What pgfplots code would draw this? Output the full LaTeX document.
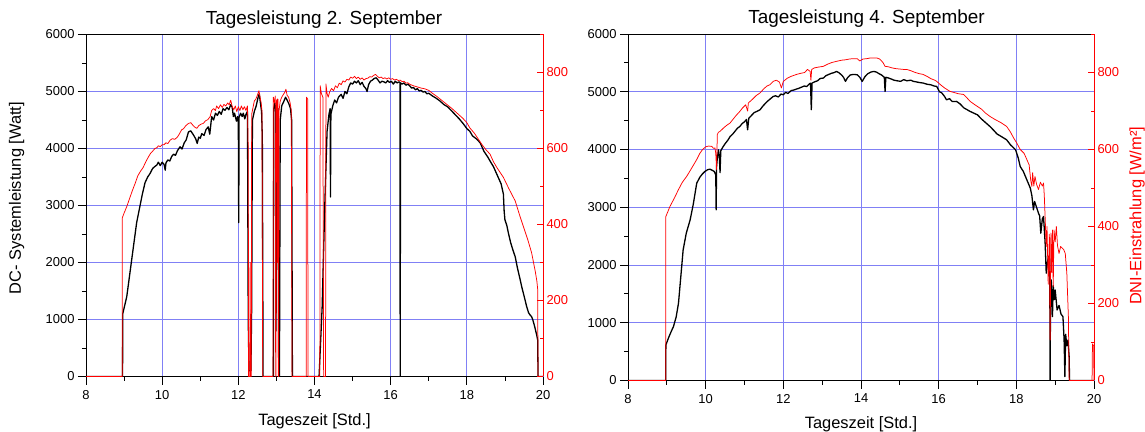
\documentclass[border=0pt]{standalone}
\usepackage{fontspec}
\setmainfont{Liberation Sans}
\usepackage{pgfplots}
\pgfplotsset{compat=1.18}
\definecolor{gridblue}{RGB}{128,128,245}
\pgfplotsset{
  blackax/.style={
    scale only axis, xmin=8, xmax=20, ymin=0, ymax=6000,
    axis y line*=left,
    xtick={8,10,...,20}, minor xtick={9,11,...,19},
    ytick={0,1000,...,6000}, minor ytick={500,1500,...,5500},
    xtick pos=bottom,
    tick align=outside, major tick length=8bp, minor tick length=4bp,
    tick style={black, line width=0.8bp},
    axis line style={line width=1bp},
    grid=major, grid style={gridblue, line width=0.8bp},
    /pgf/number format/assume math mode=true,
    /pgf/number format/set thousands separator={},
    scaled y ticks=false,
    tick label style={font=\fontsize{13}{15}\selectfont},
    xticklabel style={yshift=-2bp},
    label style={font=\fontsize{16.5}{19}\selectfont},
    title style={font=\fontsize{19}{22}\selectfont, anchor=base, yshift=4.5bp},
  },
  redax/.style={
    scale only axis, xmin=8, xmax=20, ymin=0, ymax=900,
    axis y line*=right, axis x line=none,
    ytick={0,200,...,800}, minor ytick={100,300,...,900},
    tick align=inside, major tick length=6bp, minor tick length=3bp,
    tick style={red, line width=0.8bp},
    y axis line style={red, line width=1bp},
    /pgf/number format/assume math mode=true,
    yticklabel style={red, font=\fontsize{13}{15}\selectfont},
    label style={font=\fontsize{16.5}{19}\selectfont, red},
  },
  blk/.style={black, line width=1.3bp, line join=round},
  rd/.style={red, line width=0.75bp, line join=round},
}
\begin{document}
\begin{tikzpicture}
\useasboundingbox (0,0) rectangle (1145bp,432bp);
% ---------------- Left panel: 2. September ----------------
\begin{axis}[blackax, at={(86bp,55.5bp)}, anchor=south west, width=457bp, height=342bp,
  title={Tagesleistung 2. September}, title style={at={(axis description cs:0.521,1)}},
  xlabel={Tageszeit [Std.]}, xlabel style={at={(axis description cs:0.5,-0.13)}, anchor=center},
  ylabel={DC- Systemleistung [Watt]}, ylabel style={at={(axis description cs:-0.152,0.522)}, anchor=center}]
\addplot[blk] coordinates {
(8,0) (8.96,0) (8.965,1100) (9.0,1200) (9.07,1400) (9.13,1700) (9.2,2050) (9.27,2400) (9.33,2700) (9.42,3000) (9.48,3200) (9.55,3400) (9.62,3500) (9.68,3560) (9.75,3650) (9.8,3680) (9.86,3710) (9.9,3760) (9.95,3700) (10.0,3760) (10.05,3720) (10.08,3620) (10.1,3750) (10.15,3800) (10.2,3780) (10.25,3860) (10.3,3900) (10.35,3880) (10.4,3960) (10.47,4030) (10.52,3990) (10.58,4100) (10.63,4150) (10.69,4290) (10.75,4310) (10.82,4240) (10.88,4170) (10.92,4090) (10.96,4200) (11.0,4180) (11.04,4260) (11.1,4230) (11.15,4330) (11.21,4380) (11.25,4250) (11.3,4560) (11.35,4500) (11.4,4620) (11.45,4580) (11.5,4650) (11.55,4600) (11.6,4700) (11.65,4670) (11.7,4720) (11.75,4680) (11.8,4770) (11.84,4720) (11.87,4560) (11.9,4620) (11.95,4480) (11.98,4560) (12.0,4450) (12.01,2700) (12.02,4550) (12.06,4620) (12.1,4560) (12.13,4620) (12.17,4520) (12.2,4600) (12.24,4650) (12.26,1000) (12.28,100) (12.33,100) (12.35,1200) (12.37,4500) (12.42,4650) (12.47,4750) (12.52,4900) (12.55,4960) (12.58,4800) (12.61,4650) (12.63,4200) (12.65,0) (12.92,0) (12.93,4700) (12.96,4800) (12.98,4650) (12.99,800) (13.01,4600) (13.04,4700) (13.06,0) (13.08,0) (13.1,4500) (13.14,4750) (13.19,4820) (13.24,4900) (13.28,4850) (13.33,4780) (13.37,4700) (13.4,4500) (13.42,0) (14.12,0) (14.2,1200) (14.27,3000) (14.33,4300) (14.38,4600) (14.41,4700) (14.42,3150) (14.43,4600) (14.48,4750) (14.53,4850) (14.58,4800) (14.63,4900) (14.7,4950) (14.75,4880) (14.8,5000) (14.85,4960) (14.9,5080) (14.95,5150) (15.0,5130) (15.05,5180) (15.1,5150) (15.15,5190) (15.2,5120) (15.25,5160) (15.3,5090) (15.35,5050) (15.38,5000) (15.42,5120) (15.47,5180) (15.52,5200) (15.57,5230) (15.62,5240) (15.67,5200) (15.72,5150) (15.77,5180) (15.82,5170) (15.87,5150) (15.92,5190) (15.97,5160) (16.02,5180) (16.07,5130) (16.12,5180) (16.17,5150) (16.22,5170) (16.245,5160) (16.25,0) (16.26,5150) (16.3,5130) (16.35,5150) (16.4,5110) (16.45,5130) (16.5,5100) (16.55,5060) (16.6,5070) (16.65,5030) (16.7,5050) (16.75,5010) (16.8,5020) (16.85,4990) (16.9,5000) (16.95,4960) (17.0,4970) (17.1,4920) (17.2,4880) (17.3,4830) (17.4,4770) (17.5,4730) (17.6,4660) (17.7,4590) (17.8,4520) (17.9,4440) (18.0,4350) (18.08,4300) (18.15,4220) (18.25,4170) (18.35,4100) (18.45,3950) (18.55,3850) (18.61,3780) (18.7,3680) (18.8,3530) (18.9,3380) (18.96,3200) (18.98,2900) (19.0,2750) (19.05,2650) (19.09,2520) (19.15,2350) (19.2,2240) (19.27,2100) (19.33,1900) (19.4,1700) (19.45,1550) (19.5,1420) (19.57,1230) (19.62,1120) (19.66,1080) (19.7,1050) (19.73,1000) (19.78,880) (19.83,740) (19.86,640) (19.87,0) (20,0)
};
\end{axis}
\begin{axis}[redax, at={(86bp,55.5bp)}, anchor=south west, width=457bp, height=342bp]
\addplot[rd] coordinates {
(8,0) (8.95,0) (8.955,418) (9.0,430) (9.07,447) (9.15,470) (9.22,490) (9.29,508) (9.36,528) (9.43,540) (9.5,550) (9.57,565) (9.64,578) (9.7,588) (9.75,593) (9.81,600) (9.86,602) (9.9,607) (9.95,605) (10.0,610) (10.05,610) (10.1,615) (10.15,613) (10.21,622) (10.27,626) (10.33,624) (10.4,630) (10.45,638) (10.51,649) (10.56,652) (10.62,660) (10.69,666) (10.75,668) (10.8,662) (10.86,656) (10.91,653) (10.96,660) (11.02,664) (11.08,666) (11.14,673) (11.2,676) (11.26,684) (11.3,700) (11.35,705) (11.4,700) (11.43,712) (11.48,705) (11.53,715) (11.58,708) (11.62,716) (11.67,712) (11.72,720) (11.76,715) (11.8,727) (11.84,710) (11.88,702) (11.92,712) (11.96,697) (12.0,710) (12.04,700) (12.08,712) (12.12,702) (12.16,710) (12.2,700) (12.24,712) (12.26,600) (12.27,0) (12.3,0) (12.31,300) (12.32,0) (12.34,0) (12.35,690) (12.38,705) (12.42,725) (12.46,730) (12.5,740) (12.54,752) (12.57,735) (12.6,720) (12.62,700) (12.64,0) (12.91,0) (12.92,735) (12.95,720) (12.97,738) (12.98,0) (12.99,0) (13.0,725) (13.02,730) (13.03,300) (13.04,730) (13.05,0) (13.06,0) (13.07,700) (13.1,725) (13.14,735) (13.18,742) (13.22,748) (13.25,756) (13.28,740) (13.32,735) (13.36,720) (13.39,700) (13.41,0) (13.78,0) (13.79,735) (13.82,730) (13.83,0) (14.14,0) (14.15,765) (14.18,745) (14.22,735) (14.24,0) (14.29,0) (14.3,770) (14.33,745) (14.36,735) (14.4,750) (14.45,758) (14.5,752) (14.55,765) (14.6,760) (14.65,772) (14.7,768) (14.75,778) (14.8,775) (14.85,782) (14.9,780) (14.95,788) (15.0,785) (15.05,790) (15.1,784) (15.15,788) (15.2,782) (15.25,786) (15.3,780) (15.35,784) (15.4,785) (15.45,789) (15.5,788) (15.55,792) (15.6,795) (15.65,790) (15.7,786) (15.75,788) (15.8,784) (15.85,786) (15.9,783) (15.95,786) (16.0,782) (16.05,784) (16.1,780) (16.15,782) (16.2,779) (16.25,780) (16.3,776) (16.35,777) (16.4,772) (16.45,773) (16.5,769) (16.6,765) (16.7,762) (16.8,759) (16.9,757) (17.0,753) (17.1,745) (17.2,738) (17.3,730) (17.4,722) (17.5,714) (17.6,706) (17.7,697) (17.8,688) (17.9,679) (18.0,668) (18.08,654) (18.2,640) (18.3,625) (18.4,610) (18.5,597) (18.61,585) (18.7,565) (18.8,548) (18.96,524) (19.1,495) (19.27,462) (19.4,420) (19.48,396) (19.6,360) (19.7,326) (19.8,275) (19.84,250) (19.86,230) (19.87,0) (20,0)
};
\end{axis}
% ---------------- Right panel: 4. September ----------------
\begin{axis}[blackax, at={(628bp,51.5bp)}, anchor=south west, width=466bp, height=346.5bp,
  title={Tagesleistung 4. September}, title style={at={(axis description cs:0.512,1)}},
  xlabel={Tageszeit [Std.]}, xlabel style={at={(axis description cs:0.5,-0.125)}, anchor=center}]
\addplot[blk] coordinates {
(8,0) (8.97,0) (8.975,615) (9.05,750) (9.12,860) (9.17,933) (9.24,1100) (9.3,1338) (9.36,1800) (9.42,2262) (9.5,2550) (9.6,2782) (9.68,3050) (9.77,3418) (9.85,3520) (9.92,3580) (9.98,3619) (10.05,3650) (10.11,3660) (10.17,3640) (10.22,3620) (10.24,3590) (10.26,3560) (10.27,2955) (10.28,3700) (10.3,3850) (10.33,3995) (10.35,3900) (10.37,3600) (10.39,3980) (10.45,4050) (10.5,4100) (10.57,4160) (10.63,4225) (10.7,4270) (10.76,4320) (10.82,4370) (10.88,4399) (10.94,4450) (11.0,4480) (11.05,4520) (11.08,4341) (11.11,4540) (11.18,4590) (11.25,4640) (11.32,4660) (11.4,4688) (11.47,4750) (11.54,4800) (11.6,4840) (11.67,4880) (11.74,4919) (11.8,4930) (11.87,4910) (11.94,4960) (12.0,4948) (12.06,4990) (12.12,4970) (12.2,5020) (12.27,5030) (12.34,5047) (12.4,5060) (12.47,5080) (12.54,5100) (12.6,5090) (12.66,5130) (12.7,5150) (12.72,4688) (12.74,5150) (12.8,5170) (12.88,5190) (12.95,5230) (13.03,5237) (13.1,5280) (13.17,5300) (13.24,5320) (13.3,5330) (13.37,5352) (13.43,5330) (13.5,5290) (13.55,5250) (13.6,5180) (13.65,5240) (13.72,5290) (13.8,5300) (13.9,5295) (13.97,5250) (14.03,5179) (14.1,5260) (14.17,5310) (14.25,5340) (14.33,5352) (14.4,5340) (14.47,5310) (14.53,5290) (14.6,5250) (14.62,5005) (14.64,5250) (14.7,5240) (14.78,5220) (14.85,5200) (14.93,5190) (15.02,5180) (15.1,5210) (15.18,5190) (15.28,5200) (15.35,5180) (15.43,5170) (15.5,5160) (15.6,5151) (15.7,5130) (15.8,5120) (15.88,5100) (15.95,5092) (16.02,5000) (16.08,4980) (16.15,4920) (16.2,4861) (16.28,4880) (16.35,4830) (16.46,4833) (16.55,4790) (16.65,4720) (16.73,4690) (16.81,4659) (16.9,4631) (17.0,4600) (17.1,4530) (17.2,4470) (17.32,4399) (17.42,4330) (17.5,4270) (17.6,4230) (17.75,4168) (17.85,4080) (17.98,3995) (18.05,3850) (18.1,3705) (18.18,3620) (18.27,3475) (18.36,3331) (18.4,3200) (18.44,2955) (18.47,3100) (18.52,3000) (18.57,2898) (18.6,2850) (18.63,2551) (18.67,2800) (18.7,2840) (18.74,2400) (18.77,1858) (18.8,2050) (18.83,2146) (18.86,2100) (18.87,0) (18.88,1500) (18.9,1742) (18.93,1106) (18.95,1641) (18.98,1400) (19.0,1568) (19.05,1222) (19.1,1300) (19.15,1150) (19.2,1106) (19.23,702) (19.25,66) (19.27,800) (19.3,600) (19.33,700) (19.36,412) (19.37,0) (20,0)
};
\end{axis}
\begin{axis}[redax, at={(628bp,51.5bp)}, anchor=south west, width=466bp, height=346.5bp,
  ylabel={DNI-Einstrahlung [W/m²]}, ylabel style={at={(axis description cs:1.0923,0.475)}, anchor=center}]
\addplot[rd] coordinates {
(8,0) (8.97,0) (8.975,426) (9.08,452) (9.2,475) (9.3,496) (9.4,515) (9.51,530) (9.6,545) (9.7,562) (9.77,574) (9.85,590) (9.92,600) (10.0,607) (10.08,609) (10.16,608) (10.2,603) (10.24,604) (10.26,590) (10.28,548) (10.3,639) (10.33,645) (10.37,647) (10.45,655) (10.53,662) (10.63,669) (10.7,678) (10.78,688) (10.88,699) (10.95,708) (11.03,716) (11.08,700) (11.1,721) (11.2,730) (11.3,740) (11.4,747) (11.5,758) (11.58,765) (11.65,768) (11.74,777) (11.82,780) (11.9,775) (11.95,760) (12.0,777) (12.1,785) (12.2,790) (12.34,795) (12.45,798) (12.55,800) (12.62,808) (12.69,803) (12.71,780) (12.73,808) (12.8,812) (12.9,814) (13.03,816) (13.15,822) (13.25,826) (13.37,829) (13.5,832) (13.6,833) (13.7,835) (13.8,836) (13.9,836) (13.97,830) (14.05,835) (14.15,836) (14.25,838) (14.4,838) (14.48,835) (14.53,830) (14.57,825) (14.62,816) (14.7,815) (14.8,812) (14.9,810) (15.0,809) (15.1,808) (15.18,808) (15.3,804) (15.4,800) (15.5,797) (15.6,795) (15.7,790) (15.8,784) (15.9,780) (15.95,777) (16.05,768) (16.15,760) (16.29,751) (16.4,748) (16.5,745) (16.64,743) (16.72,735) (16.81,725) (16.95,715) (17.1,705) (17.2,695) (17.32,686) (17.45,678) (17.6,670) (17.75,660) (17.85,645) (17.93,630) (18.01,617) (18.1,600) (18.2,590) (18.27,574) (18.33,560) (18.37,520) (18.4,504) (18.42,540) (18.45,505) (18.48,530) (18.52,510) (18.57,496) (18.62,515) (18.67,505) (18.7,513) (18.72,480) (18.77,348) (18.79,400) (18.82,250) (18.85,380) (18.87,105) (18.89,383) (18.91,280) (18.93,391) (18.95,244) (18.97,391) (19.0,360) (19.03,400) (19.06,350) (19.1,330) (19.14,348) (19.17,345) (19.22,340) (19.26,330) (19.3,279) (19.34,166) (19.36,0) (19.95,0) (19.96,95) (19.99,90) (20,0)
};
\end{axis}
\end{tikzpicture}
\end{document}
